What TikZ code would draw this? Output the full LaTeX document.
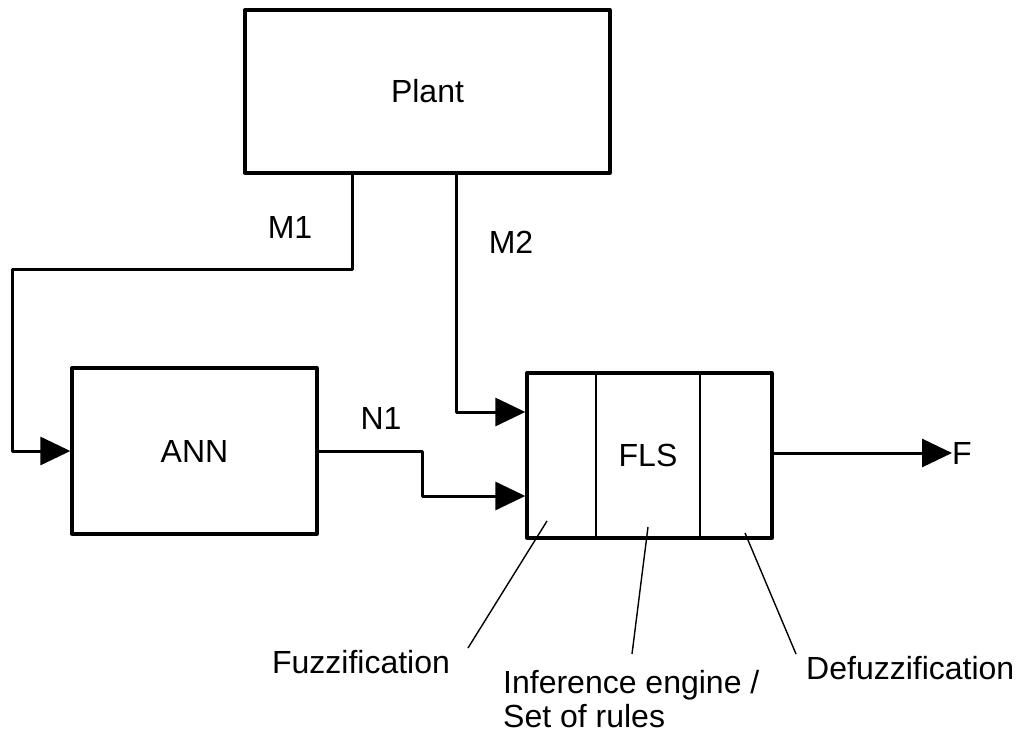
\documentclass[tikz,border=0pt]{standalone}
\usepackage{fontspec}
\setmainfont{Liberation Sans}
\usetikzlibrary{arrows.meta,calc}
\begin{document}
\begin{tikzpicture}[x=1pt,y=-1pt,
  every node/.style={font=\fontsize{32pt}{34pt}\selectfont},
  blk/.style={draw,line width=3.3pt,line join=round,minimum width=#1,inner sep=0pt},
  conn/.style={line width=3pt,line join=round,-{Triangle[length=30pt,width=28pt]}},
  leader/.style={line width=1.4pt},
  divider/.style={line width=1.6pt},
  lbl/.style={inner sep=0pt}]
\useasboundingbox (0,0) rectangle (1022,733);
% blocks
\node[blk=365pt,minimum height=163pt] (plant) at (427.5,91.5) {Plant};
\node[blk=245pt,minimum height=166pt] (ann) at (194.5,451) {ANN};
\node[blk=245pt,minimum height=165pt] (fls) at (649.5,455.5) {};
\node[lbl] (flslabel) at (648,455) {FLS};
\draw[divider] (fls.north -| 596,0) -- (fls.south -| 596,0);
\draw[divider] (fls.north -| 700,0) -- (fls.south -| 700,0);
% connector labels
\node[lbl] (m1) at (290,227) {M1};
\node[lbl] (m2) at (511,242) {M2};
\node[lbl] (n1) at (381,418) {N1};
\node[lbl,anchor=west] (F) at (952,453) {F};
% connectors
\coordinate (m1bend) at (352,269);
\coordinate (m1left) at (12,269);
\draw[conn] (plant.south -| m1bend) -- (m1bend) -- (m1left) |- (ann.west);
\coordinate (m2bend) at (456,412);
\draw[conn] (plant.south -| m2bend) -- (m2bend) -- (fls.west |- m2bend);
\coordinate (n1bend) at (422,496);
\draw[conn] (ann.east) -| (n1bend) -- (fls.west |- n1bend);
\draw[conn] (fls.east |- F.west) -- (F.west);
% part labels
\node[lbl] (fuzz) at (361,662) {Fuzzification};
\node[lbl,anchor=west,align=left] (inf) at (503,699) {Inference engine /\\Set of rules};
\node[lbl,anchor=west] (defuzz) at (806,668) {Defuzzification};
\coordinate (fuzzin) at (547,521);
\coordinate (fuzzend) at (468,648);
\coordinate (infin) at (648,527);
\coordinate (infend) at (632,654);
\coordinate (defin) at (745,533);
\coordinate (defend) at (796,654);
\draw[leader] (fuzzin) -- (fuzzend);
\draw[leader] (infin) -- (infend);
\draw[leader] (defin) -- (defend);
\end{tikzpicture}
\end{document}
